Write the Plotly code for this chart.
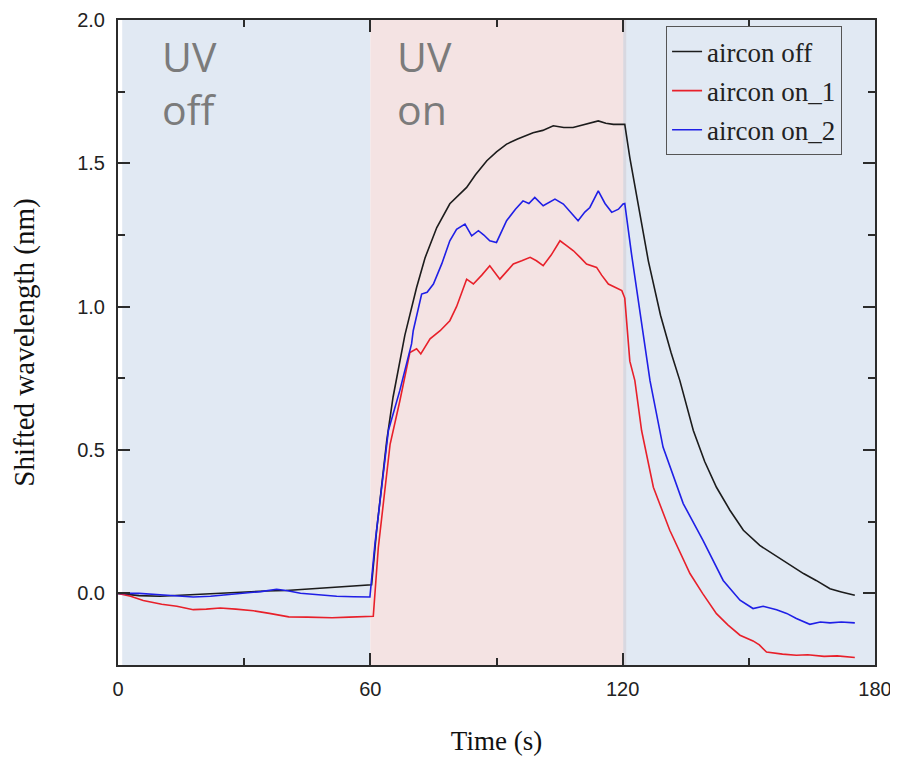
import plotly.graph_objects as go

# ---- data ----
t_off = [0, 5, 10, 15, 20, 25, 30, 35, 40, 45, 50, 55, 60, 60.3, 61.5, 62.7, 63.9, 65.4, 67, 68.2,
         71, 73, 75.8, 78.9, 82.9, 85, 87.7, 90, 92.4, 95, 98.7, 101, 103.5, 106, 108.2, 111,
         114.2, 116, 117.8, 120.1, 120.5, 121.7, 124, 126.1, 129, 131.5, 133.6, 136.8, 139.5,
         142.3, 145.5, 148.7, 152.6, 155.5, 158.2, 161, 163, 166, 169.3, 172, 175.2]
v_off = [0, -0.008, -0.01, -0.006, -0.002, 0.0, 0.004, 0.008, 0.01, 0.015, 0.02, 0.025, 0.028,
         0.03, 0.22, 0.38, 0.533, 0.684, 0.81, 0.9, 1.067, 1.17, 1.276, 1.359, 1.416, 1.46,
         1.509, 1.54, 1.567, 1.585, 1.607, 1.615, 1.631, 1.625, 1.625, 1.635, 1.648, 1.64,
         1.636, 1.636, 1.636, 1.52, 1.33, 1.16, 0.97, 0.84, 0.742, 0.568, 0.46, 0.37, 0.29,
         0.22, 0.167, 0.14, 0.115, 0.09, 0.069, 0.045, 0.016, 0.005, -0.007]

t_on1 = [0, 3, 6, 10.4, 14, 17.9, 21, 24.3, 28, 32.2, 36, 40.6, 45, 50.9, 55, 59.7, 60.7, 61.9,
         63.3, 64.7, 67, 69.4, 71, 72, 74.2, 76.6, 78.9, 80.5, 82.9, 84.5, 86.5, 88.4, 90.8,
         94, 96, 98, 99.5, 101.1, 103, 105.1, 106.5, 108.3, 110, 111.4, 113.8, 115, 116.6,
         118, 119.8, 120.5, 121.7, 122.9, 124.5, 127.3, 131.2, 136, 139, 142.3, 145, 147.9,
         151, 152.5, 154.2, 158, 161.3, 164, 167.9, 171, 175.2]
v_on1 = [0, -0.01, -0.025, -0.038, -0.045, -0.057, -0.055, -0.051, -0.055, -0.061, -0.07,
         -0.082, -0.083, -0.085, -0.083, -0.082, -0.08, 0.16, 0.34, 0.52, 0.67, 0.84, 0.853,
         0.835, 0.888, 0.916, 0.951, 1.0, 1.096, 1.079, 1.11, 1.143, 1.096, 1.149, 1.16, 1.172,
         1.16, 1.143, 1.18, 1.23, 1.215, 1.195, 1.17, 1.149, 1.137, 1.11, 1.079, 1.07, 1.056,
         1.03, 0.81, 0.742, 0.568, 0.37, 0.22, 0.069, 0.0, -0.071, -0.11, -0.146, -0.166,
         -0.18, -0.205, -0.212, -0.216, -0.214, -0.22, -0.218, -0.224]

t_on2 = [0, 5, 10, 14, 17.9, 22, 26, 30, 34, 37.7, 40, 43.4, 47, 52, 56, 59.9, 61.1, 62.7,
         64.3, 67, 69.8, 70.2, 72.2, 73.5, 75, 77, 78.9, 80.5, 82.5, 84.1, 85.7, 87, 88.4, 90,
         92.4, 94.5, 96.3, 97.7, 99.1, 101.1, 103.9, 105.9, 107.5, 109.4, 111, 112.2, 114.2,
         115.8, 117.4, 119, 120.1, 120.5, 122.1, 124, 126.1, 126.5, 129.6, 134.4, 139.1,
         143.9, 147.9, 151, 153.4, 156.6, 159, 161.3, 164.5, 167, 169.3, 172, 175.2]
v_on2 = [0, 0.0, -0.005, -0.008, -0.013, -0.01, -0.005, 0.0, 0.006, 0.014, 0.01, 0.0, -0.005,
         -0.01, -0.012, -0.013, 0.173, 0.37, 0.568, 0.707, 0.87, 0.916, 1.044, 1.05, 1.079,
         1.15, 1.23, 1.27, 1.288, 1.247, 1.265, 1.25, 1.23, 1.224, 1.3, 1.34, 1.369, 1.36,
         1.381, 1.352, 1.375, 1.358, 1.33, 1.3, 1.33, 1.346, 1.404, 1.36, 1.329, 1.34, 1.358,
         1.36, 1.184, 1.0, 0.788, 0.742, 0.51, 0.313, 0.185, 0.045, -0.024, -0.053, -0.045,
         -0.057, -0.07, -0.088, -0.108, -0.1, -0.103, -0.1, -0.103]

series_names = ["aircon off", "aircon on_1", "aircon on_2"]
x_ticks = [0, 60, 120, 180]
y_ticks = [0.0, 0.5, 1.0, 1.5, 2.0]
y_tick_text = ["0.0", "0.5", "1.0", "1.5", "2.0"]
uv_off_start, uv_on_start, uv_on_end, x_end = 1, 60, 120.5, 180

colors = ["#1c1c1c", "#e8202a", "#1f1fe6"]

fig = go.Figure()
for name, tx, vy, c in zip(series_names, [t_off, t_on1, t_on2], [v_off, v_on1, v_on2], colors):
    fig.add_trace(go.Scatter(x=tx, y=vy, mode="lines", name=name, legendgroup=name,
                             line=dict(color=c, width=1.6)))

# shaded regions
fig.add_shape(type="rect", xref="x", yref="paper", x0=uv_off_start, x1=uv_on_start, y0=0, y1=1,
              fillcolor="#e1e9f3", line=dict(width=0), layer="below")
fig.add_shape(type="rect", xref="x", yref="paper", x0=uv_on_start, x1=uv_on_end, y0=0, y1=1,
              fillcolor="#f4e3e3", line=dict(width=0), layer="below")
fig.add_shape(type="rect", xref="x", yref="paper", x0=uv_on_end, x1=x_end, y0=0, y1=1,
              fillcolor="#e1e9f3", line=dict(width=0), layer="below")
fig.add_shape(type="line", xref="x", yref="paper", x0=uv_on_end, x1=uv_on_end, y0=0, y1=1,
              line=dict(color="#d8d8e0", width=3), layer="below")

uv_font = dict(family="Open Sans", size=41, color="#7b7b7b")
fig.add_annotation(x=10, y=0.99, xref="x", yref="paper", text="UV<br>off", showarrow=False,
                   xanchor="left", yanchor="top", align="left", font=uv_font)
fig.add_annotation(x=65.9, y=0.99, xref="x", yref="paper", text="UV<br>on", showarrow=False,
                   xanchor="left", yanchor="top", align="left", font=uv_font)

axis_common = dict(showline=True, linecolor="#2b2b2b", linewidth=2, mirror="ticks",
                   ticks="inside", ticklen=12, tickwidth=1.5, tickcolor="#2b2b2b",
                   showgrid=False, zeroline=False,
                   tickfont=dict(family="Liberation Sans", size=20, color="#222"))

fig.update_xaxes(range=[0, 180], tickvals=x_ticks, ticktext=[str(v) for v in x_ticks],
                 minor=dict(dtick=30, tick0=0, ticks="inside", ticklen=7, tickcolor="#2b2b2b",
                            tickwidth=1.5, showgrid=False),
                 ticklabelstandoff=5,
                 title=dict(text="Time (s)", standoff=32,
                            font=dict(family="Liberation Serif", size=27, color="#111")),
                 **axis_common)
fig.update_yaxes(range=[-0.25, 2.0], tickvals=y_ticks, ticktext=y_tick_text,
                 minor=dict(dtick=0.25, tick0=0, ticks="inside", ticklen=7, tickcolor="#2b2b2b",
                            tickwidth=1.5, showgrid=False),
                 ticklabelstandoff=7,
                 title=dict(text="Shifted wavelength (nm)", standoff=36,
                            font=dict(family="Liberation Serif", size=29, color="#111")),
                 **axis_common)

# the page body adds an 8 px offset, so the figure is sized to fit the 898x763 window
fig.update_layout(
    width=890, height=755,
    margin=dict(l=110, r=23, t=12, b=98, autoexpand=False),
    paper_bgcolor="white", plot_bgcolor="white",
    showlegend=True,
    legend=dict(x=0.724, y=0.99, xanchor="left", yanchor="top",
                bgcolor="rgba(0,0,0,0)", bordercolor="#555", borderwidth=1,
                font=dict(family="Liberation Serif", size=27, color="#222"),
                tracegroupgap=1, itemwidth=30),
)

fig.write_html("out.html")
